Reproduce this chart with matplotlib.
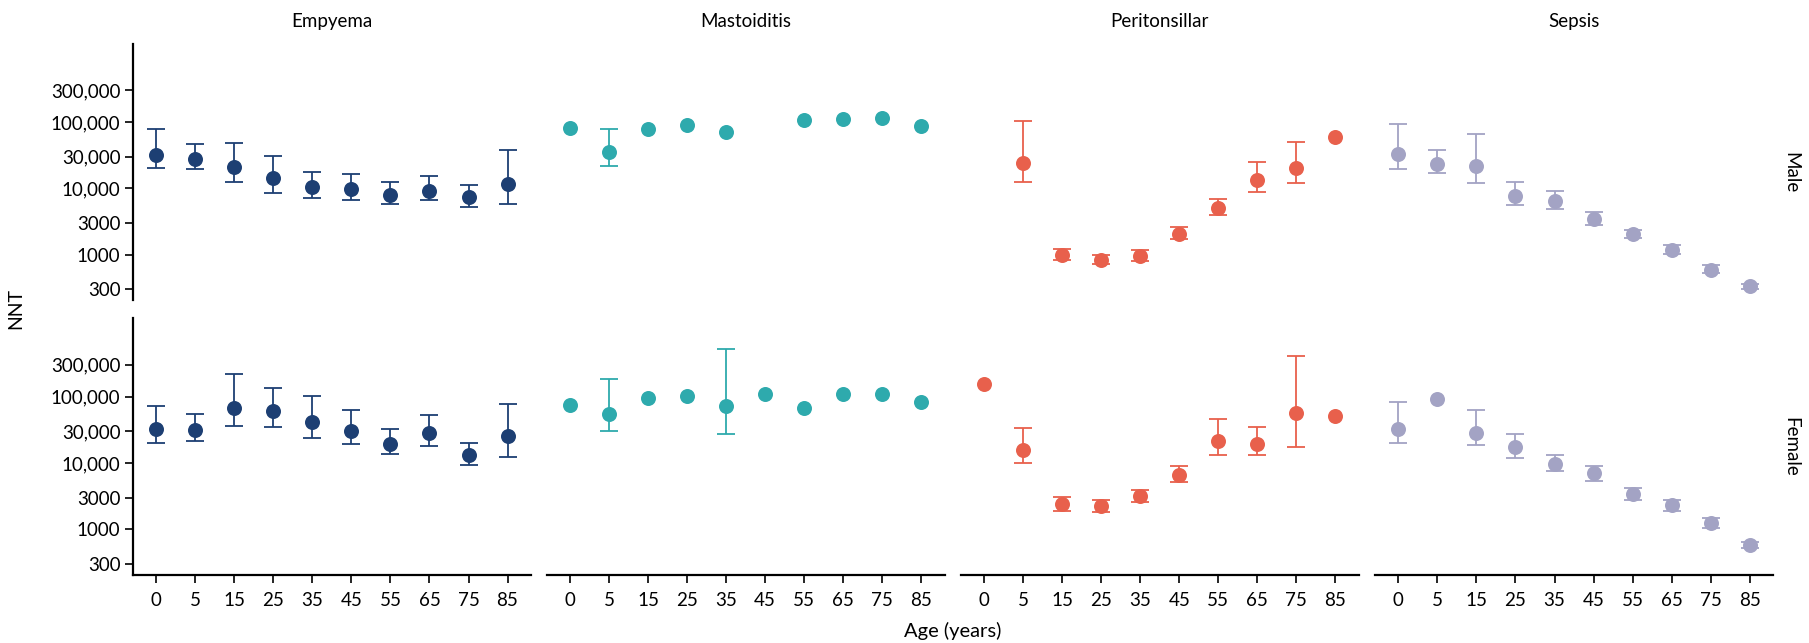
import matplotlib
matplotlib.use('Agg')
import matplotlib.pyplot as plt
import numpy as np
from matplotlib.ticker import FixedLocator, FixedFormatter, NullLocator

plt.rcParams['font.family'] = ['Lato', 'DejaVu Sans']

ages = ['0', '5', '15', '25', '35', '45', '55', '65', '75', '85']
conditions = ['Empyema', 'Mastoiditis', 'Peritonsillar', 'Sepsis']
sexes = ['Male', 'Female']
colors = ['#1d3f73', '#2eaaad', '#e8604c', '#a3a3c4']

N = None

# NNT point estimates with lower / upper interval bounds (None = not available)
empyema_male = [32400, 28200, 20700, 14300, 10500, 9700, 7900, 9300, 7300, 11800]
empyema_male_lo = [20000, 19500, 12400, 8500, 7100, 6800, 5800, 6700, 5250, 5900]
empyema_male_hi = [79000, 45900, 48700, 31000, 17400, 16400, 12300, 15500, 11400, 37700]
empyema_female = [32100, 31000, 68200, 60000, 40900, 30700, 19300, 28000, 13200, 25200]
empyema_female_lo = [20000, 21200, 35700, 34400, 24000, 19300, 13500, 17800, 9300, 12400]
empyema_female_hi = [73100, 54800, 217000, 133000, 103000, 62000, 32100, 53000, 20200, 78300]

mastoiditis_male = [82600, 35100, 79800, 89500, 71100, N, 106000, 110000, 116000, 88500]
mastoiditis_male_lo = [N, 21600, N, N, N, N, N, N, N, N]
mastoiditis_male_hi = [N, 79000, N, N, N, N, N, N, N, N]
mastoiditis_female = [75700, 54800, 96600, 101000, 71400, 110000, 67600, 110000, 110000, 84100]
mastoiditis_female_lo = [N, 30700, N, N, 27700, N, N, N, N, N]
mastoiditis_female_hi = [N, 182000, N, N, 512000, N, N, N, N, N]

peritonsillar_male = [N, 24300, 1010, 830, 975, 2030, 5100, 13500, 20500, 58500]
peritonsillar_male_lo = [N, 12700, 830, 720, 810, 1740, 4020, 8800, 12200, N]
peritonsillar_male_hi = [N, 102000, 1240, 1000, 1200, 2590, 7000, 24600, 50900, N]
peritonsillar_female = [155000, 15500, 2380, 2270, 3210, 6590, 21200, 19100, 56000, 50500]
peritonsillar_female_lo = [N, 10100, 1910, 1840, 2610, 5220, 13200, 13000, 17200, N]
peritonsillar_female_hi = [N, 33300, 3030, 2770, 3950, 9010, 46100, 34400, 405000, N]

sepsis_male = [33300, 23500, 21400, 7600, 6450, 3420, 2030, 1180, 600, 336]
sepsis_male_lo = [19300, 16800, 11900, 5550, 4830, 2780, 1770, 1040, 532, 310]
sepsis_male_hi = [94000, 37300, 67100, 12400, 9100, 4350, 2400, 1400, 695, 365]
sepsis_female = [32600, 91000, 28300, 17400, 9750, 6970, 3370, 2290, 1230, 580]
sepsis_female_lo = [19800, N, 18400, 12000, 7650, 5410, 2770, 1910, 1050, 530]
sepsis_female_hi = [82000, N, 63700, 27700, 13200, 9100, 4140, 2790, 1480, 635]

panels = {
    ('Empyema', 'Male'): (empyema_male, empyema_male_lo, empyema_male_hi),
    ('Empyema', 'Female'): (empyema_female, empyema_female_lo, empyema_female_hi),
    ('Mastoiditis', 'Male'): (mastoiditis_male, mastoiditis_male_lo, mastoiditis_male_hi),
    ('Mastoiditis', 'Female'): (mastoiditis_female, mastoiditis_female_lo, mastoiditis_female_hi),
    ('Peritonsillar', 'Male'): (peritonsillar_male, peritonsillar_male_lo, peritonsillar_male_hi),
    ('Peritonsillar', 'Female'): (peritonsillar_female, peritonsillar_female_lo, peritonsillar_female_hi),
    ('Sepsis', 'Male'): (sepsis_male, sepsis_male_lo, sepsis_male_hi),
    ('Sepsis', 'Female'): (sepsis_female, sepsis_female_lo, sepsis_female_hi),
}

y_ticks = [300, 1000, 3000, 10000, 30000, 100000, 300000]
y_labels = ['300', '1000', '3000', '10,000', '30,000', '100,000', '300,000']


def to_arr(vals):
    return np.array([np.nan if v is None else v for v in vals], dtype=float)


fig = plt.figure(figsize=(18.09, 6.43), dpi=100)

col_left = [0.0735, 0.3022, 0.5311, 0.7601]
col_w = 0.2200
row_bottom = {'Male': 0.5327, 'Female': 0.1058}
row_h = 0.3989

x = np.arange(len(ages))

for ci, cond in enumerate(conditions):
    for sex in sexes:
        ax = fig.add_axes([col_left[ci], row_bottom[sex], col_w, row_h])
        est, lo, hi = (to_arr(v) for v in panels[(cond, sex)])
        c = colors[ci]

        # intervals only where both bounds are known
        has_ci = ~np.isnan(lo) & ~np.isnan(hi) & ~np.isnan(est)
        if has_ci.any():
            ax.errorbar(x[has_ci], est[has_ci],
                        yerr=[est[has_ci] - lo[has_ci], hi[has_ci] - est[has_ci]],
                        fmt='none', ecolor=c, elinewidth=1.3, capsize=6.5,
                        capthick=1.3, zorder=2)
        ax.plot(x, est, 'o', color=c, markersize=10.8, markeredgewidth=0, zorder=3)

        ax.set_yscale('log')
        ax.set_ylim(205, 1.5e6)
        ax.set_xlim(-0.6, 9.6)

        for s in ['top', 'right']:
            ax.spines[s].set_visible(False)
        ax.spines['left'].set_linewidth(1.6)
        ax.spines['bottom'].set_linewidth(1.6)

        ax.yaxis.set_minor_locator(NullLocator())
        if ci == 0:
            ax.yaxis.set_major_locator(FixedLocator(y_ticks))
            ax.yaxis.set_major_formatter(FixedFormatter(y_labels))
            ax.tick_params(axis='y', labelsize=13.5, length=6, width=1.2, pad=3)
        else:
            ax.spines['left'].set_visible(False)
            ax.set_yticks([])

        if sex == 'Female':
            ax.set_xticks(x)
            ax.set_xticklabels(ages)
            ax.tick_params(axis='x', labelsize=13.5, length=6, width=1.2, pad=6)
        else:
            ax.spines['bottom'].set_visible(False)
            ax.set_xticks([])
            ax.set_title(cond, fontsize=13.5, pad=12)

        if ci == len(conditions) - 1:
            ax.text(1.045, 0.5, sex, transform=ax.transAxes, rotation=-90,
                    ha='center', va='center', fontsize=13.5)

fig.text(0.0085, 0.52, 'NNT', rotation=90, ha='center', va='center', fontsize=14)
fig.text(0.5265, 0.018, 'Age (years)', ha='center', va='center', fontsize=14.5)

plt.savefig('out.png', dpi=100)
plt.close()
